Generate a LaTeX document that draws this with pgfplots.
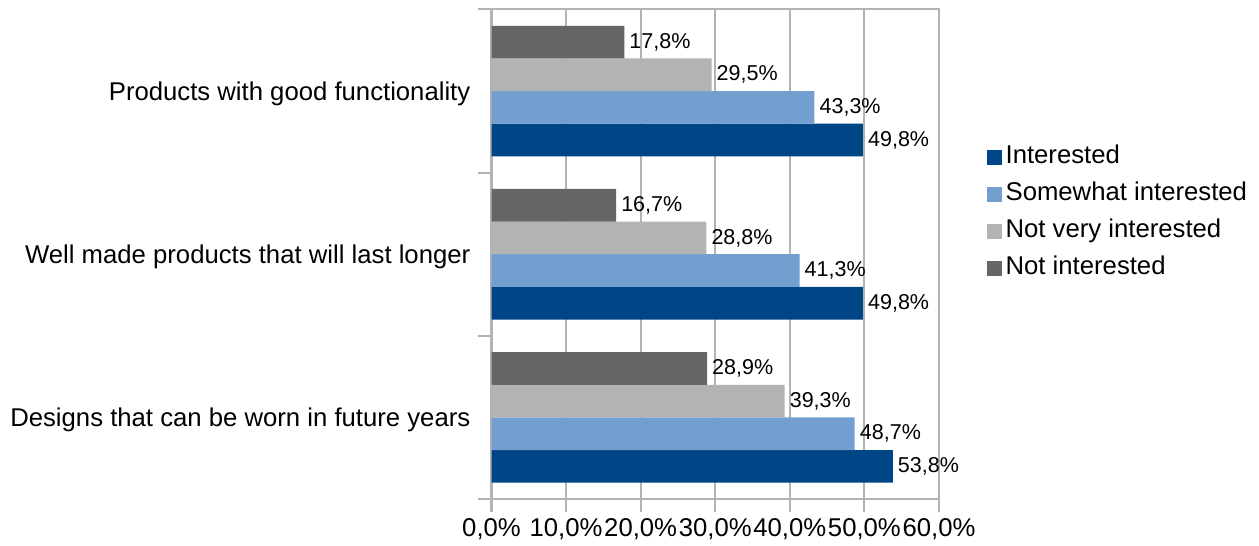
\documentclass[border=0pt]{standalone}
\usepackage{pgfplots}
\pgfplotsset{compat=1.18}
\usepackage{pgfplotstable}
\usepackage{fontspec}
\setmainfont{Liberation Sans}

\definecolor{cInt}{HTML}{004586}
\definecolor{cSome}{HTML}{729FCF}
\definecolor{cNotVery}{HTML}{B3B3B3}
\definecolor{cNot}{HTML}{666666}
\definecolor{gridc}{HTML}{B3B3B3}

% rows: 0 = Designs..., 1 = Well made..., 2 = Products...
\pgfplotstableread{
cat notint notvery some int
0   28.9   39.3    48.7 53.8
1   16.7   28.8    41.3 49.8
2   17.8   29.5    43.3 49.8
}\survey

\begin{document}
\begin{tikzpicture}
\useasboundingbox (0,0) rectangle (1259bp,546bp);
\begin{axis}[
  at={(491.5bp,47bp)}, anchor=south west,
  scale only axis, width=447.5bp, height=489.5bp,
  xmin=0, xmax=60, ymin=-0.5, ymax=2.5,
  xbar, bar width=0.2,
  font=\fontsize{25.7bp}{30bp}\selectfont,
  axis line style={gridc, line width=2bp},
  xmajorgrids, major grid style={gridc, line width=2bp},
  xtick={0,10,...,60},
  xtick pos=left, ytick pos=left,
  tick align=outside,
  major tick length=13bp,
  minor tick length=13bp,
  major x tick style={gridc, line width=2bp},
  ytick={0,1,2},
  yticklabels={Designs that can be worn in future years,
               Well made products that will last longer,
               Products with good functionality},
  minor ytick={-0.5,0.5,1.5,2.5},
  major y tick style={draw=none},
  minor y tick style={gridc, line width=2bp},
  yticklabel style={inner sep=0pt, xshift=-8bp, yshift=-2.5bp, text=black},
  xticklabel style={inner sep=0pt, yshift=-6bp, text=black},
  xticklabel={\pgfmathprintnumber[fixed, fixed zerofill, precision=1, use comma, assume math mode=true]{\tick}\%},
  point meta=x,
  nodes near coords={\pgfmathprintnumber[fixed, fixed zerofill, precision=1, use comma, assume math mode=true]{\pgfplotspointmeta}\%},
  every node near coord/.append style={font=\fontsize{21.5bp}{25bp}\selectfont, inner sep=0pt, xshift=5bp, text=black},
  legend cell align=left,
  legend style={at={(1.1073,0.5843)}, anchor=west, draw=none, fill=none,
    inner sep=0pt, row sep=14bp,
    nodes={inner sep=0pt, text height=18bp, text depth=5bp},
    /tikz/every odd column/.append style={column sep=4bp}},
]
\addplot[fill=cInt, draw=none, bar shift=-0.3, forget plot] table[x=int, y=cat]{\survey};
\addplot[fill=cSome, draw=none, bar shift=-0.1, forget plot] table[x=some, y=cat]{\survey};
\addplot[fill=cNotVery, draw=none, bar shift=0.1, forget plot] table[x=notvery, y=cat]{\survey};
\addplot[fill=cNot, draw=none, bar shift=0.3, forget plot] table[x=notint, y=cat]{\survey};

\addlegendimage{legend image code/.code={\fill[cInt] (0bp,-7bp) rectangle (14bp,7bp);}}
\addlegendentry{Interested}
\addlegendimage{legend image code/.code={\fill[cSome] (0bp,-7bp) rectangle (14bp,7bp);}}
\addlegendentry{Somewhat interested}
\addlegendimage{legend image code/.code={\fill[cNotVery] (0bp,-7bp) rectangle (14bp,7bp);}}
\addlegendentry{Not very interested}
\addlegendimage{legend image code/.code={\fill[cNot] (0bp,-7bp) rectangle (14bp,7bp);}}
\addlegendentry{Not interested}
\end{axis}
\end{tikzpicture}
\end{document}
